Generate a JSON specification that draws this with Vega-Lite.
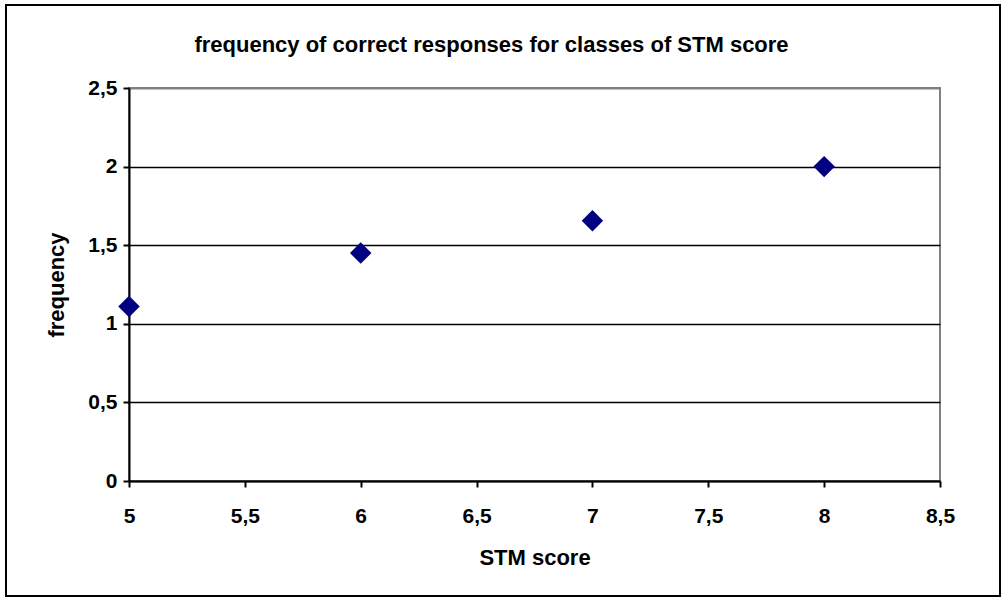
{
  "$schema": "https://vega.github.io/schema/vega-lite/v6.json",
  "width": 811,
  "height": 393,
  "autosize": "none",
  "padding": {"left": 129, "top": 88, "right": 63, "bottom": 118},
  "background": "white",
  "config": {
    "font": "Liberation Sans",
    "view": {"stroke": "#808080", "strokeWidth": 2}
  },
  "title": {
    "text": "frequency of correct responses for classes of STM score",
    "fontSize": 22,
    "fontWeight": "bold",
    "font": "Liberation Sans",
    "color": "black",
    "anchor": "middle",
    "dx": -43,
    "offset": -53
  },
  "data": {
    "values": [
      {"score": 5, "frequency": 1.11},
      {"score": 6, "frequency": 1.45},
      {"score": 7, "frequency": 1.655},
      {"score": 8, "frequency": 2.0}
    ]
  },
  "layer": [
    {
      "mark": {"type": "rect", "fill": null, "stroke": "black", "strokeWidth": 2},
      "encoding": {
        "x": {"value": -123},
        "x2": {"value": 871},
        "y": {"value": -83},
        "y2": {"value": 508}
      }
    },
    {
      "mark": {"type": "point", "shape": "diamond", "filled": true, "color": "#000080", "opacity": 1, "size": 460},
      "encoding": {
        "x": {
          "field": "score",
          "type": "quantitative",
          "scale": {"domain": [5, 8.5], "nice": false, "zero": false},
          "axis": {
            "title": "STM score",
            "titleFontSize": 22,
            "titleFontWeight": "bold",
            "titleColor": "black",
            "titlePadding": 21,
            "values": [5, 5.5, 6, 6.5, 7, 7.5, 8, 8.5],
            "labelExpr": "replace(format(datum.value, ''), '.', ',')",
            "labelFontSize": 21,
            "labelFontWeight": "bold",
            "labelColor": "black",
            "labelPadding": 18,
            "labelFlush": false,
            "grid": false,
            "domainColor": "black",
            "domainWidth": 2,
            "tickColor": "black",
            "tickWidth": 2,
            "tickSize": 6
          }
        },
        "y": {
          "field": "frequency",
          "type": "quantitative",
          "scale": {"domain": [0, 2.5], "nice": false},
          "axis": {
            "title": "frequency",
            "titleFontSize": 22,
            "titleFontWeight": "bold",
            "titleColor": "black",
            "titlePadding": 19,
            "values": [0, 0.5, 1, 1.5, 2, 2.5],
            "labelExpr": "replace(format(datum.value, ''), '.', ',')",
            "labelFontSize": 21,
            "labelFontWeight": "bold",
            "labelColor": "black",
            "labelPadding": 6,
            "labelFlush": false,
            "grid": true,
            "gridColor": {"condition": {"test": "datum.value == 2.5", "value": "#808080"}, "value": "black"},
            "gridWidth": {"condition": {"test": "datum.value == 2.5", "value": 2}, "value": 1.5},
            "domainColor": "black",
            "domainWidth": 2,
            "tickColor": "black",
            "tickWidth": 2,
            "tickSize": 6
          }
        }
      }
    }
  ]
}
